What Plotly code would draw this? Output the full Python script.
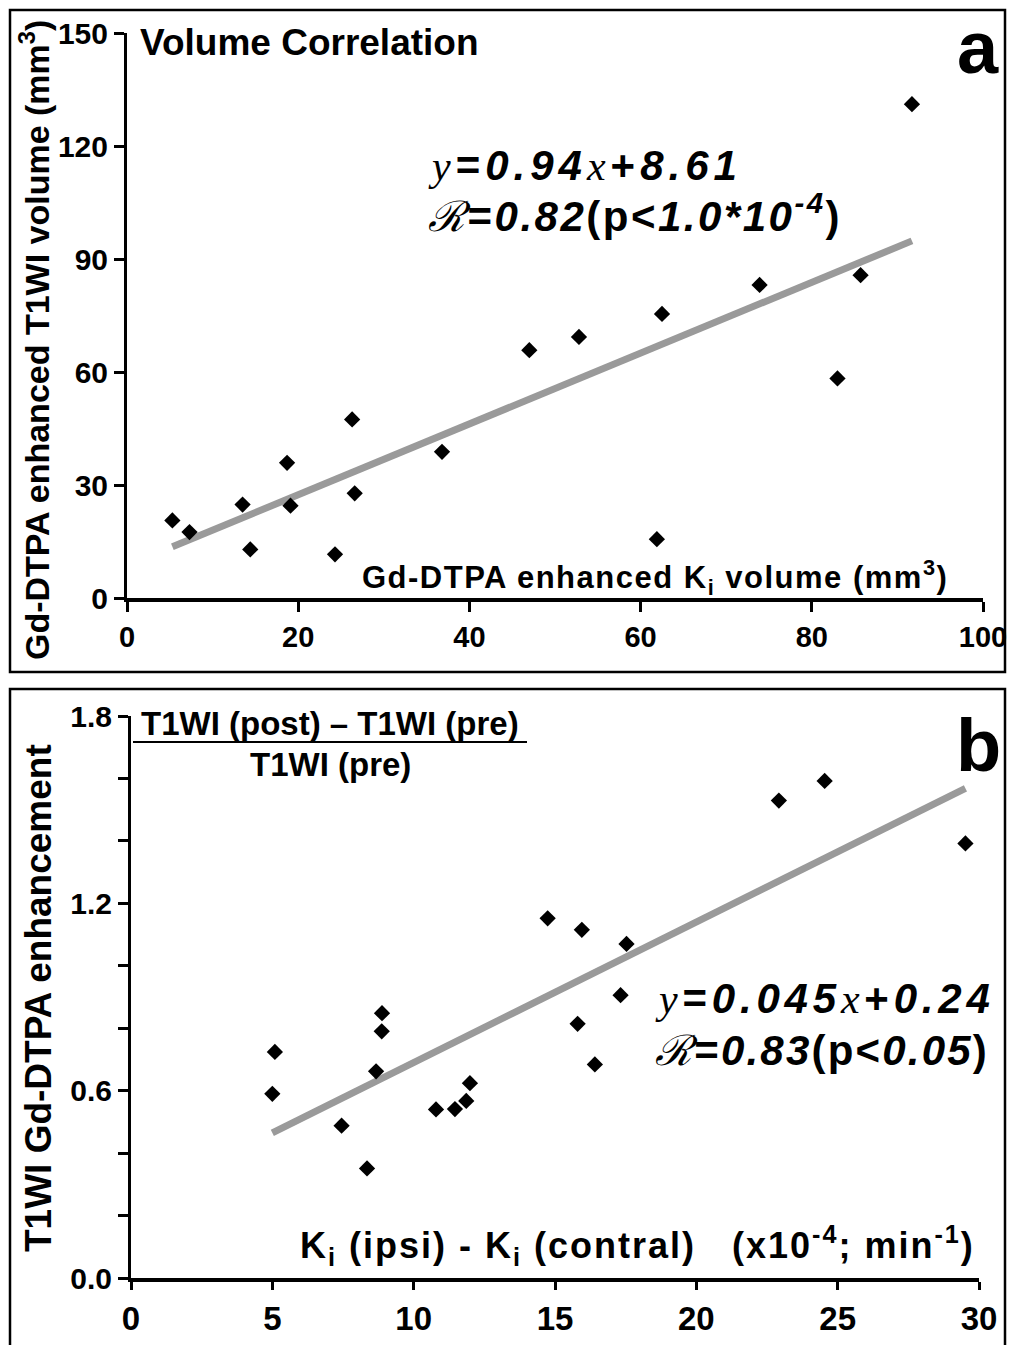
import plotly.graph_objects as go

W, H = 1013, 1345

# ---------------- Panel a data ----------------
a_x = [5.3, 7.3, 13.5, 14.4, 18.7, 19.1, 24.3, 26.3, 26.6, 36.8, 47.0, 52.8, 61.9, 62.5, 73.9, 83.0, 85.7, 91.7]
a_y = [20.6, 17.5, 24.8, 12.9, 35.9, 24.5, 11.6, 47.4, 27.8, 38.8, 65.8, 69.3, 15.6, 75.4, 83.1, 58.3, 85.7, 131.1]
a_slope, a_intercept = 0.94, 8.61
a_xticks = [0, 20, 40, 60, 80, 100]
a_yticks = [0, 30, 60, 90, 120, 150]

# ---------------- Panel b data ----------------
b_x = [5.09, 5.0, 7.45, 8.35, 8.67, 8.87, 8.88, 10.79, 11.46, 11.86, 11.99,
       14.74, 15.95, 17.53, 17.32, 15.8, 16.41, 22.92, 24.54, 29.52]
b_y = [0.724, 0.59, 0.488, 0.351, 0.662, 0.79, 0.848, 0.540, 0.541, 0.567, 0.624,
       1.152, 1.115, 1.07, 0.906, 0.814, 0.684, 1.529, 1.592, 1.392]
b_slope, b_intercept = 0.045, 0.24
b_xticks = [0, 5, 10, 15, 20, 25, 30]
b_yticks = [0.0, 0.2, 0.4, 0.6, 0.8, 1.0, 1.2, 1.4, 1.6, 1.8]
b_yticklabels = ["0.0", "", "", "0.6", "", "", "1.2", "", "", "1.8"]

FONT = "Liberation Sans, Arial, sans-serif"
SERIF = "Liberation Serif, DejaVu Serif, serif"


def px(x):
    return x / W


def py(y):
    return 1 - y / H


fig = go.Figure()

# panel a
a_fx = [min(a_x), max(a_x)]
fig.add_trace(go.Scatter(x=a_fx, y=[a_slope * v + a_intercept for v in a_fx], mode="lines",
                         line=dict(color="#9a9a9a", width=7), xaxis="x", yaxis="y", showlegend=False))
fig.add_trace(go.Scatter(x=a_x, y=a_y, mode="markers",
                         marker=dict(symbol="diamond", size=12.5, color="black"),
                         xaxis="x", yaxis="y", showlegend=False, cliponaxis=False))

# panel b
b_fx = [min(b_x), max(b_x)]
fig.add_trace(go.Scatter(x=b_fx, y=[b_slope * v + b_intercept for v in b_fx], mode="lines",
                         line=dict(color="#9a9a9a", width=7), xaxis="x2", yaxis="y2", showlegend=False))
fig.add_trace(go.Scatter(x=b_x, y=b_y, mode="markers",
                         marker=dict(symbol="diamond", size=12.5, color="black"),
                         xaxis="x2", yaxis="y2", showlegend=False, cliponaxis=False))

axis_common = dict(showline=True, linecolor="black", ticks="outside",
                   tickwidth=3, tickcolor="black", showgrid=False, zeroline=False,
                   automargin=False)

fig.update_layout(
    template="none",
    width=W, height=H,
    margin=dict(l=0, r=0, t=0, b=0, pad=0, autoexpand=False),
    paper_bgcolor="white", plot_bgcolor="white",
    xaxis=dict(domain=[px(127), px(983)], range=[0, 100], anchor="y", tickvals=a_xticks, linewidth=4,
               ticklen=10,
               tickfont=dict(family=FONT, size=29, color="black", weight="bold"), **axis_common),
    yaxis=dict(domain=[py(598), py(33)], range=[0, 150], anchor="x", tickvals=a_yticks, linewidth=3,
               ticklen=10,
               tickfont=dict(family=FONT, size=30, color="black", weight="bold"), **axis_common),
    xaxis2=dict(domain=[px(131), px(979)], range=[0, 30], anchor="y2", tickvals=b_xticks, linewidth=4,
                ticklen=8,
                tickfont=dict(family=FONT, size=33, color="black", weight="bold"), **axis_common),
    yaxis2=dict(domain=[py(1278), py(716)], range=[0, 1.8], anchor="x2", tickvals=b_yticks,
                ticktext=b_yticklabels, linewidth=3, ticklen=10,
                tickfont=dict(family=FONT, size=30, color="black", weight="bold"), **axis_common),
)

shapes = [
    dict(type="rect", xref="paper", yref="paper", x0=px(10), x1=px(1005), y0=py(672), y1=py(10),
         line=dict(color="black", width=2.5)),
    dict(type="rect", xref="paper", yref="paper", x0=px(10), x1=px(1005), y0=py(1352), y1=py(689),
         line=dict(color="black", width=2.5)),
    dict(type="line", xref="paper", yref="paper", x0=px(133), x1=px(527), y0=py(742), y1=py(742),
         line=dict(color="black", width=2)),
]
fig.update_layout(shapes=shapes)


def ann(text, x, y, size, xanchor="left", yanchor="middle", angle=0):
    return dict(text=text, x=px(x), y=py(y), xref="paper", yref="paper", showarrow=False,
                xanchor=xanchor, yanchor=yanchor, textangle=angle,
                font=dict(family=FONT, size=size, color="black"))


def serif(t):
    return '<span style="font-family:%s;font-weight:normal"><i>%s</i></span>' % (SERIF, t)


def spaced(t, sp):
    return '<span style="letter-spacing:%spx">%s</span>' % (sp, t)


annotations = [
    ann("<b>Volume Correlation</b>", 138, 42, 37),
    ann("<b>a</b>", 978, 47, 74, xanchor="center"),
    ann("<b>Gd-DTPA enhanced T1WI volume (mm<sup>3</sup>)</b>", 35, 340, 34, xanchor="center", angle=-90),
    ann(spaced("<b>Gd-DTPA enhanced K<sub>i</sub> volume (mm<sup>3</sup>)</b>", 1.5), 950, 577, 31,
        xanchor="right"),
    ann(spaced(serif("y") + "<b>=<i>0.94</i></b>" + serif("x") + "<b>+<i>8.61</i></b>", 5), 426, 165, 42),
    ann(spaced(serif("ℛ") + "<b>=<i>0.82</i>(p&lt;<i>1.0*10<sup>-4</sup></i>)</b>", 2.5), 426, 213, 42),
    # panel b
    ann("<b>b</b>", 978, 745, 74, xanchor="center"),
    ann("<b>T1WI Gd-DTPA enhancement</b>", 38, 998, 37, xanchor="center", angle=-90),
    ann("<b>T1WI (post) – T1WI (pre)</b>", 139, 723, 33),
    ann("<b>T1WI (pre)</b>", 330, 764, 33, xanchor="center"),
    ann(spaced("<b>K<sub>i</sub> (ipsi) - K<sub>i</sub> (contral)   (x10<sup>-4</sup>; min<sup>-1</sup>)</b>",
               2), 977, 1245, 36, xanchor="right"),
    ann(spaced(serif("y") + "<b>=<i>0.045</i></b>" + serif("x") + "<b>+<i>0.24</i></b>", 4.8), 653, 998, 42),
    ann(spaced(serif("ℛ") + "<b>=<i>0.83</i>(p&lt;<i>0.05</i>)</b>", 2.2), 653, 1050, 42),
]
fig.update_layout(annotations=annotations)

fig.write_html("out.html", config={"displayModeBar": False},
               post_script="document.body.style.margin='0';document.body.style.padding='0';"
                           "document.body.style.overflow='hidden';")
